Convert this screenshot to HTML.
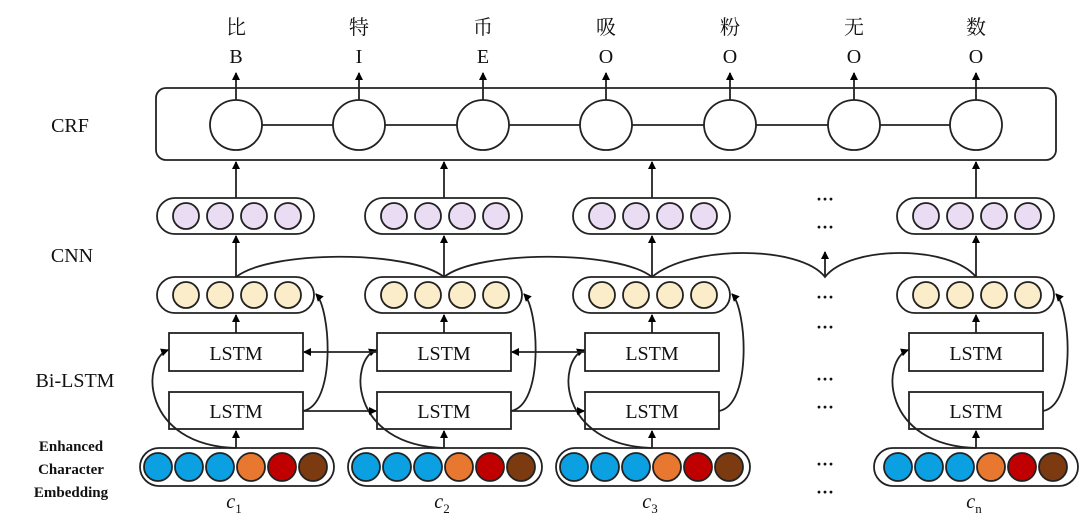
<!DOCTYPE html>
<html><head><meta charset="utf-8"><style>
html,body{margin:0;padding:0;background:#fff;}
svg{display:block;}
text{font-family:"Liberation Serif","Noto Serif CJK SC",serif;fill:#111;}
</style></head><body>
<svg id="s" width="1080" height="523" viewBox="0 0 1080 523" xmlns="http://www.w3.org/2000/svg">
<defs><marker id="a" markerWidth="8" markerHeight="8" refX="7" refY="4" orient="auto" markerUnits="userSpaceOnUse"><path d="M0,0 L8,4 L0,8 z" fill="#000"/></marker></defs>
<g id="g" stroke="#222" stroke-width="1.8" fill="none"></g>
<g font-size="20" text-anchor="middle">
<text x="236" y="34" font-family="Noto Serif CJK SC,serif">比</text>
<text x="359" y="34" font-family="Noto Serif CJK SC,serif">特</text>
<text x="483" y="34" font-family="Noto Serif CJK SC,serif">币</text>
<text x="606" y="34" font-family="Noto Serif CJK SC,serif">吸</text>
<text x="730" y="34" font-family="Noto Serif CJK SC,serif">粉</text>
<text x="854" y="34" font-family="Noto Serif CJK SC,serif">无</text>
<text x="976" y="34" font-family="Noto Serif CJK SC,serif">数</text>
<text x="236" y="63">B</text><text x="359" y="63">I</text><text x="483" y="63">E</text>
<text x="606" y="63">O</text><text x="730" y="63">O</text><text x="854" y="63">O</text><text x="976" y="63">O</text>
<text x="70" y="132">CRF</text>
<text x="72" y="262">CNN</text>
<text x="75" y="387">Bi-LSTM</text>
<text x="236" y="360">LSTM</text><text x="444" y="360">LSTM</text><text x="652" y="360">LSTM</text><text x="976" y="360">LSTM</text>
<text x="236" y="418">LSTM</text><text x="444" y="418">LSTM</text><text x="652" y="418">LSTM</text><text x="976" y="418">LSTM</text>
</g>
<g font-size="15" font-weight="bold" text-anchor="middle">
<text x="71" y="451">Enhanced</text><text x="71" y="474">Character</text><text x="71" y="497">Embedding</text>
</g>
<g font-size="20" font-style="italic" text-anchor="middle">
<text x="234" y="508">c<tspan font-size="13" dy="5" font-style="normal">1</tspan></text>
<text x="442" y="508">c<tspan font-size="13" dy="5" font-style="normal">2</tspan></text>
<text x="650" y="508">c<tspan font-size="13" dy="5" font-style="normal">3</tspan></text>
<text x="974" y="508">c<tspan font-size="13" dy="5" font-style="normal">n</tspan></text>
</g>
<g font-size="18" font-weight="bold" text-anchor="middle">
<text x="825" y="205">···</text><text x="825" y="233">···</text><text x="825" y="303">···</text><text x="825" y="333">···</text>
<text x="825" y="385">···</text><text x="825" y="413">···</text><text x="825" y="470">···</text><text x="825" y="498">···</text>
</g>
</svg>
<script>
var g=document.getElementById('g'),NS='http://www.w3.org/2000/svg';
function el(t,o){var e=document.createElementNS(NS,t);for(var k in o)e.setAttribute(k,o[k]);g.appendChild(e);return e;}
function ar(d){el('path',{d:d,'marker-end':'url(#a)'});}
el('rect',{x:156,y:88,width:900,height:72,rx:10});
var cx=[236,359,483,606,730,854,976];
el('line',{x1:236,y1:125,x2:976,y2:125});
cx.forEach(function(x){el('ellipse',{cx:x,cy:125,rx:26,ry:25,fill:'#fff'});ar('M'+x+' 100 L'+x+' 73');});
var cols=[236,444,652,976];
cols.forEach(function(c,i){
 var L=c-79;
 el('rect',{x:L,y:198,width:157,height:36,rx:18});
 el('rect',{x:L,y:277,width:157,height:36,rx:18});
 for(var j=0;j<4;j++){var x=c-50+j*34;
  el('circle',{cx:x,cy:216,r:13,fill:'#eadcf3'});
  el('circle',{cx:x,cy:295,r:13,fill:'#fbedc9'});}
 ar('M'+c+' 198 L'+c+' 162');
 ar('M'+c+' 277 L'+c+' 236');
 el('rect',{x:c-67,y:333,width:134,height:38,fill:'#fff'});
 el('rect',{x:c-67,y:392,width:134,height:37,fill:'#fff'});
 ar('M'+c+' 333 L'+c+' 315');
 ar('M'+c+' 448 L'+c+' 431');
 var eL=c-96,eW=194; if(i==3){eL=874;eW=204;}
 el('rect',{x:eL,y:448,width:eW,height:38,rx:19});
 var cols2=['#0aa0e2','#0aa0e2','#0aa0e2','#e8782f','#c00000','#7b3a10'];
 for(var j=0;j<6;j++)el('circle',{cx:c-78+j*31,cy:467,r:14,fill:cols2[j]});
 ar('M'+c+' 448 C'+(c-95)+' 445,'+(c-95)+' 360,'+(c-68)+' 350');
 ar('M'+(c+67)+' 411 C'+(c+100)+' 405,'+(c+95)+' 310,'+(c+80)+' 294');
});
ar('M303 411 L376 411');ar('M511 411 L584 411');
ar('M377 352 L304 352');ar('M585 352 L512 352');
el('path',{d:'M236 277 C270 250,410 250,444 277 C478 250,618 250,652 277 C690 245,800 245,825 277 C850 245,950 245,976 277'});
ar('M825 277 L825 252');
</script>
</body></html>
